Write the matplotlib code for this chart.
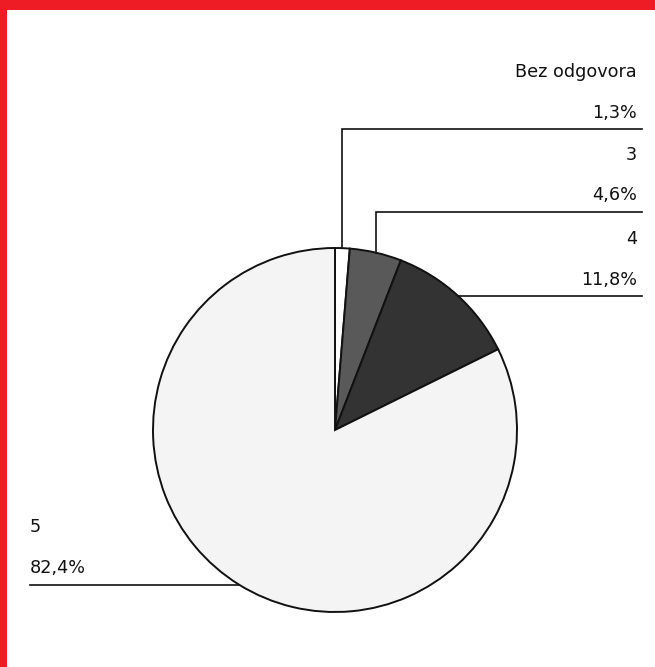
import numpy as np
import matplotlib
matplotlib.use("Agg")
import matplotlib.pyplot as plt
from matplotlib.patches import Rectangle

# Data
labels = ["Bez odgovora", "3", "4", "5"]
values = [1.3, 4.6, 11.8, 82.4]
value_labels = ["1,3%", "4,6%", "11,8%", "82,4%"]
colors = ["#ffffff", "#595959", "#333333", "#f4f4f4"]

W, H = 655, 667
fig = plt.figure(figsize=(W / 100, H / 100), dpi=100)
ax = fig.add_axes([0, 0, 1, 1])

def Y(yp):
    return H - yp

cx, cy, r = 335, Y(430), 182
wedges, _ = ax.pie(values, colors=colors, startangle=90, counterclock=False,
                   center=(cx, cy), radius=r,
                   wedgeprops=dict(edgecolor="#111111", linewidth=1.4))
ax.set_xlim(0, W)
ax.set_ylim(0, H)
ax.set_aspect("equal", adjustable="datalim")
ax.axis("off")

lw = 1.2
lc = "#111111"
tc = "#111111"
fs = 12.7
font = "DejaVu Sans"

def anchor(w):
    mid = np.deg2rad((w.theta1 + w.theta2) / 2)
    return cx + r * np.cos(mid), cy + r * np.sin(mid)

right_x_line = 642
right_x_text = 637
# line levels (pixel y) for right-side labels
line_levels = [129, 211.5, None]
for i in range(3):
    ax_, ay_ = anchor(wedges[i])
    if line_levels[i] is not None:
        ly = Y(line_levels[i])
        ax.plot([ax_, ax_, right_x_line], [ay_, ly, ly], color=lc, lw=lw,
                solid_joinstyle="miter")
    else:
        ly = ay_
        ax.plot([ax_, right_x_line], [ly, ly], color=lc, lw=lw)
    ax.text(right_x_text, ly + 11, value_labels[i], ha="right", va="baseline",
            fontsize=fs, color=tc, family=font)
    ax.text(right_x_text, ly + 52, labels[i], ha="right", va="baseline",
            fontsize=fs, color=tc, family=font)

# left label
ax_, ay_ = anchor(wedges[3])
ax.plot([30, ax_], [ay_, ay_], color=lc, lw=lw)
ax.text(30, ay_ + 12, value_labels[3], ha="left", va="baseline",
        fontsize=fs, color=tc, family=font)
ax.text(30, ay_ + 53, labels[3], ha="left", va="baseline",
        fontsize=fs, color=tc, family=font)

# red frame
red = "#ee1c25"
fig.patches.append(Rectangle((0, 1 - 10 / H), 1, 10 / H, transform=fig.transFigure,
                             facecolor=red, edgecolor="none"))
fig.patches.append(Rectangle((0, 0), 7 / W, 1, transform=fig.transFigure,
                             facecolor=red, edgecolor="none"))

fig.savefig("out.png", dpi=100)
